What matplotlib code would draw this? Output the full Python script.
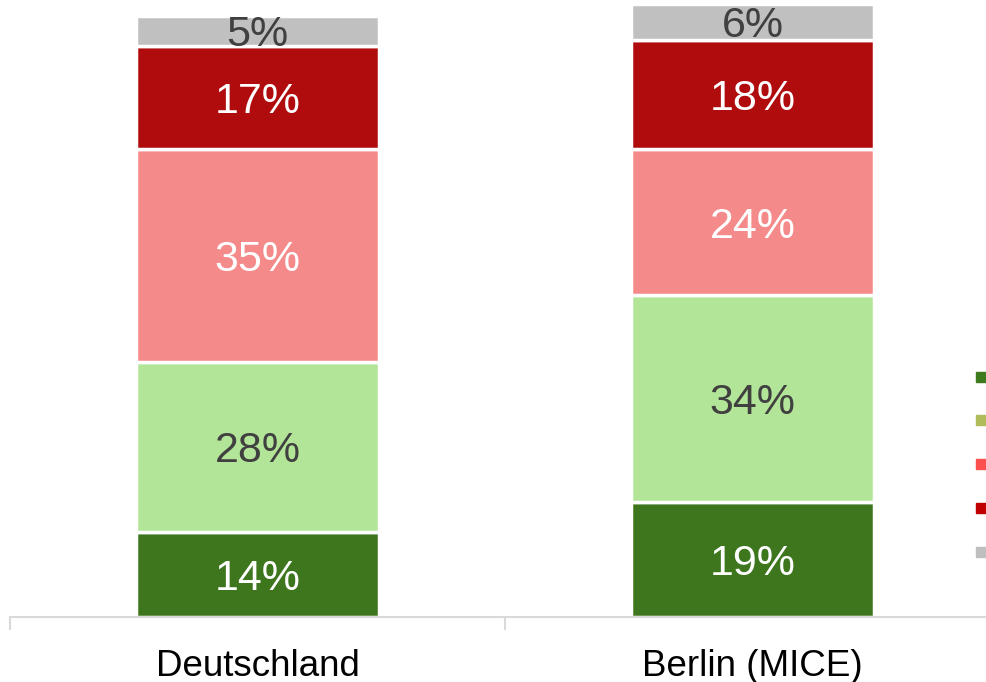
import numpy as np
import matplotlib.pyplot as plt
from matplotlib.lines import Line2D

plt.rcParams['font.family'] = ['Liberation Sans', 'DejaVu Sans']

# Daten
kategorien = ['Deutschland', 'Berlin (MICE)']
segment_1 = [14, 19]   # dunkelgrün
segment_2 = [28, 34]   # hellgrün
segment_3 = [35, 24]   # rosa
segment_4 = [17, 18]   # dunkelrot
segment_5 = [5, 6]     # grau

segmente = [segment_1, segment_2, segment_3, segment_4, segment_5]
farben = ['#3e761e', '#b3e598', '#f58a8a', '#b00c0e', '#c0c0c0']
text_farben = ['white', '#404040', 'white', 'white', '#404040']
legend_farben = ['#3f7a1e', '#b0bc5a', '#ff5050', '#c00000', '#bfbfbf']

fig = plt.figure(figsize=(9.87, 6.82), dpi=100)
ax = fig.add_axes([10/987, 65/682, 977/987, 617/682])

x = np.arange(len(kategorien))
unten = np.zeros(len(kategorien))
for werte, farbe, tfarbe in zip(segmente, farben, text_farben):
    werte = np.array(werte, dtype=float)
    ax.bar(x, werte, width=0.49, bottom=unten, color=farbe,
           edgecolor='white', linewidth=2.5)
    for xi, w, b in zip(x, werte, unten):
        ax.text(xi, b + w / 2, f'{int(w)}%', ha='center', va='center_baseline',
                fontsize=31, color=tfarbe)
    unten += werte

# Achsen
for s in ['top', 'right', 'left']:
    ax.spines[s].set_visible(False)
ax.spines['bottom'].set_color('#d9d9d9')
ax.spines['bottom'].set_linewidth(1.5)
ax.set_yticks([])
ax.set_xticks(x)
ax.set_xticklabels(kategorien, fontsize=26.5, color='black')
ax.tick_params(axis='x', which='major', length=0, pad=23)
ax.set_xticks([-0.5, 0.5, 1.5], minor=True)
ax.tick_params(axis='x', which='minor', length=9, width=1.5, color='#d9d9d9')

ax.set_xlim(-0.5, (987 - 10) / 495 - 0.5)
ax.set_ylim(0, 101.6)

# Legende (nur Symbole)
handles = [Line2D([], [], marker='s', linestyle='none', markersize=7,
                  markerfacecolor=c, markeredgecolor=c) for c in legend_farben]
fig.legend(handles, [''] * 5, loc='center', bbox_to_anchor=(0.994, 0.318),
           frameon=False, handlelength=0.7, handletextpad=0, borderpad=0,
           labelspacing=2.15, fontsize=10, borderaxespad=0)

fig.savefig('out.png', dpi=100)
